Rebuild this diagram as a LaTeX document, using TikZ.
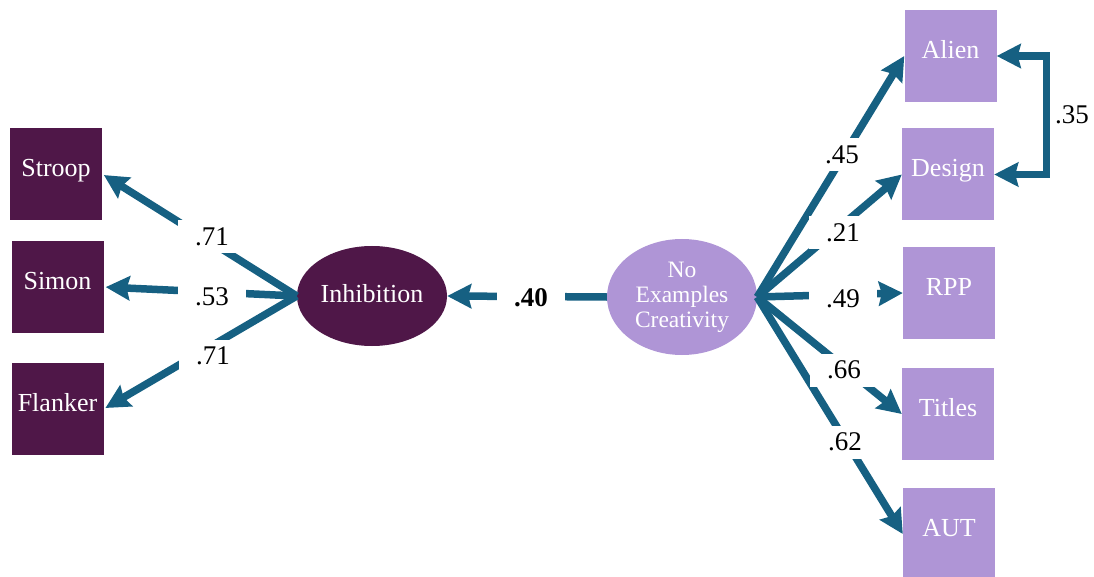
\documentclass[tikz,border=0pt]{standalone}
\usepackage{fontspec}
\setmainfont{Liberation Serif}
\usetikzlibrary{arrows.meta,shapes.geometric}
\definecolor{plum}{RGB}{79,23,72}
\definecolor{lilac}{RGB}{175,149,214}
\definecolor{pathblue}{RGB}{22,96,130}
\begin{document}
\begin{tikzpicture}[x=1pt,y=-1pt,
  bigtip/.tip={Stealth[length=24pt,width=24pt,inset=3pt]},
  obs/.style={rectangle, minimum width=92pt, minimum height=92pt, inner sep=0pt,
    text=white, text height=18pt, text depth=13pt, font=\fontsize{26}{30}\selectfont},
  inhobs/.style={obs, fill=plum},
  creobs/.style={obs, fill=lilac},
  latent/.style={ellipse, inner sep=0pt, text=white},
  conn/.style={draw=pathblue, line width=7.5pt, -{bigtip}},
  lbl/.style={fill=white, minimum width=68pt, minimum height=33pt, inner sep=0pt,
    font=\fontsize{27}{30}\selectfont}
]
\useasboundingbox (0,0) rectangle (1094,577);

% indicators of inhibition
\node[inhobs] (stroop)  at (56,174)   {Stroop};
\node[inhobs] (simon)   at (57.5,287) {Simon};
\node[inhobs] (flanker) at (57.5,409) {Flanker};

% indicators of creativity
\node[creobs] (alien)  at (950.5,56)  {Alien};
\node[creobs] (design) at (948,174.5) {Design};
\node[creobs] (rpp)    at (949,293)   {RPP};
\node[creobs] (titles) at (948,414)   {Titles};
\node[creobs] (aut)    at (949,534)   {AUT};

% latent factors
\node[latent, fill=plum, minimum width=150pt, minimum height=100pt,
  text height=18pt, text depth=5pt,
  font=\fontsize{26}{30}\selectfont] (inh) at (372,296) {Inhibition};
\node[latent, fill=lilac, minimum width=150pt, minimum height=116pt, align=center,
  font=\fontsize{23.5}{25}\selectfont] (cre) at (682,297) {No\\Examples\\Creativity};

% loadings
\draw[conn, shorten >=2pt] (inh.west) -- (stroop.east);
\draw[conn, shorten >=2pt] (inh.west) -- (simon.east);
\draw[conn, shorten >=2pt] (inh.west) -- (flanker.east);
\draw[conn] (cre.west) -- (inh.east);
\draw[conn] (cre.east) -- (alien.west);
\draw[conn] (cre.east) -- (design.west);
\draw[conn] (cre.east) -- (rpp.west);
\draw[conn] (cre.east) -- (titles.west);
\draw[conn] (cre.east) -- (aut.west);

% residual covariance
\draw[draw=pathblue, line width=7.5pt, line join=miter, {bigtip}-{bigtip}]
  (alien.east) -- ++(50,0) |- (design.east);
\node[font=\fontsize{27}{30}\selectfont] (c35) at (1072,115) {.35};

% coefficient labels
\node[lbl] (l1) at (212,237) {.71};
\node[lbl] (l2) at (212,297) {.53};
\node[lbl] (l3) at (213,356) {.71};
\node[lbl, font=\fontsize{27}{30}\selectfont\bfseries] (l4) at (531,298) {.40};
\node[lbl] (l5) at (842,155) {.45};
\node[lbl] (l6) at (843,233) {.21};
\node[lbl] (l7) at (843,299) {.49};
\node[lbl] (l8) at (844,370) {.66};
\node[lbl] (l9) at (845,442) {.62};
\end{tikzpicture}
\end{document}
